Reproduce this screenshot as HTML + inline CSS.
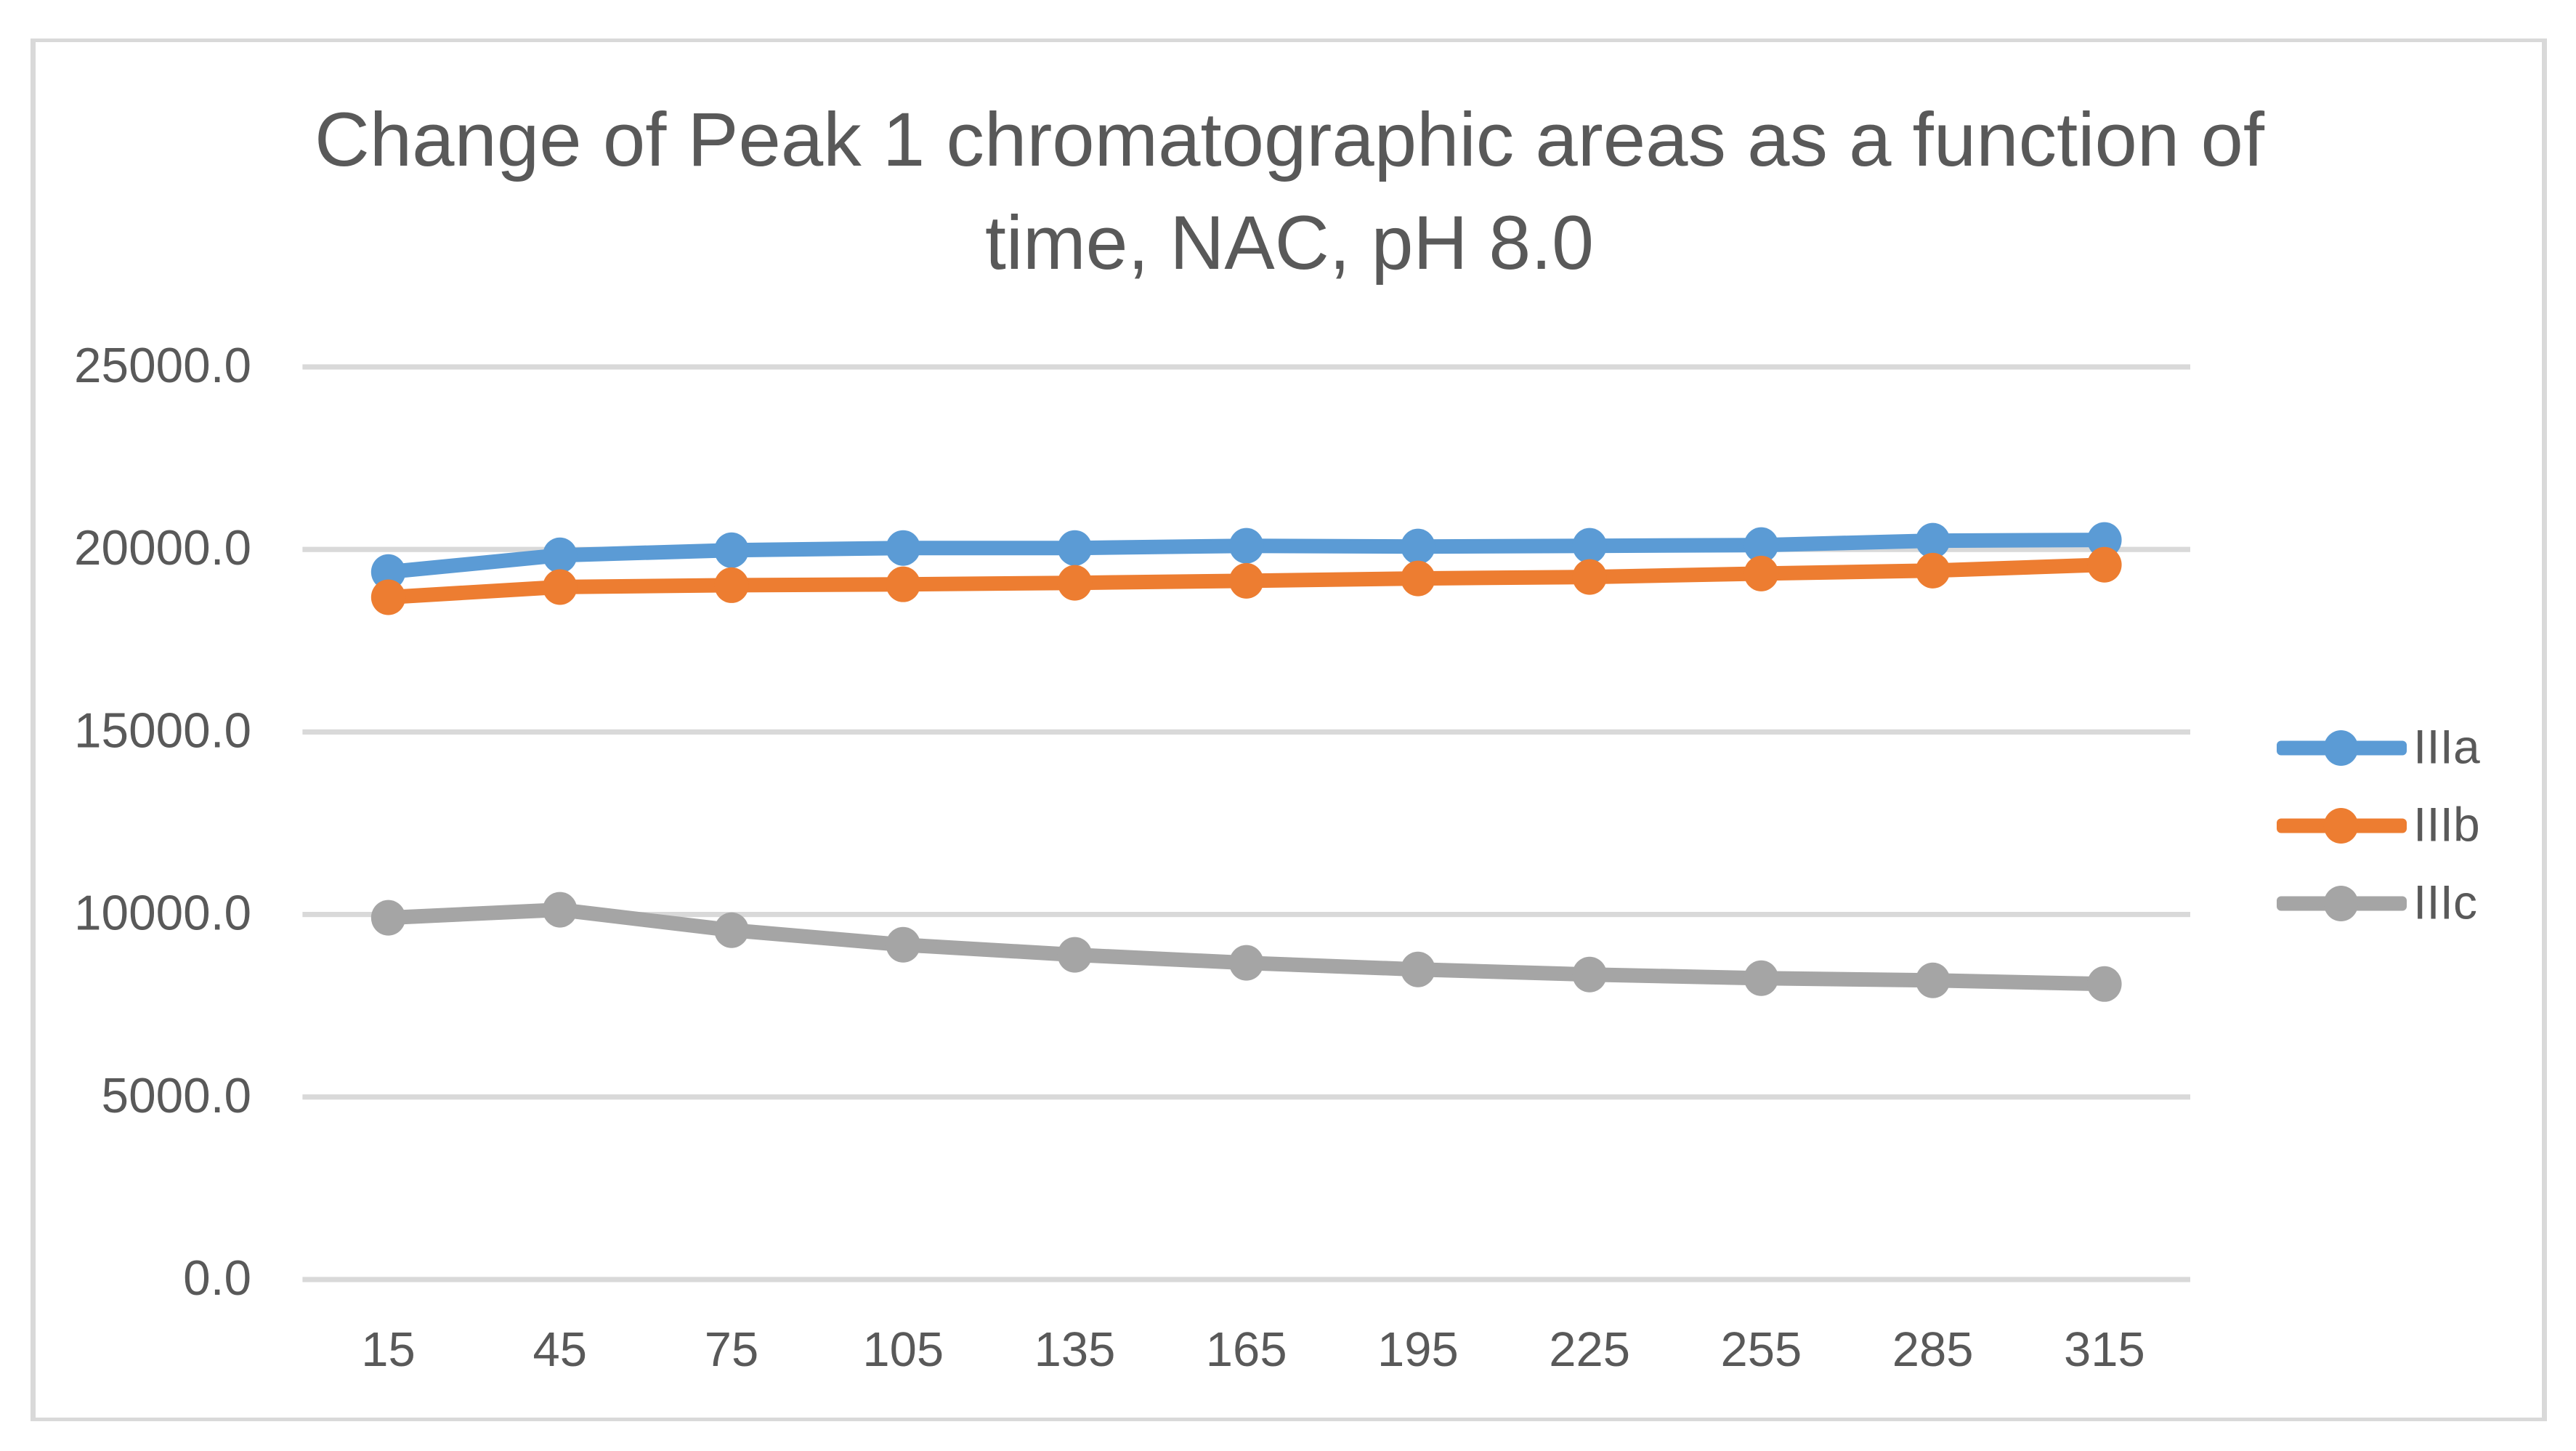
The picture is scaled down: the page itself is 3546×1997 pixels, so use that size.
<!DOCTYPE html>
<html lang="en">
<head>
<meta charset="utf-8">
<title>Change of Peak 1 chromatographic areas</title>
<style>
html,body{margin:0;padding:0;background:#fff;width:3546px;height:1997px;overflow:hidden}
#frame{position:absolute;left:42px;top:53px;width:3464px;height:1903px;box-sizing:border-box;border-style:solid;border-color:#d9d9d9;border-width:5.6px 7.6px;background:#fff}
svg{position:absolute;left:0;top:0}
text{font-family:"Liberation Sans",sans-serif;fill:#595959}
</style>
</head>
<body>
<div id="frame"></div>
<svg id="chart" width="3546" height="1997" viewBox="0 0 3546 1997" xmlns="http://www.w3.org/2000/svg">
  <g>
    <text x="1775" y="228" font-size="105" text-anchor="middle" textLength="2684" lengthAdjust="spacingAndGlyphs">Change of Peak 1 chromatographic areas as a function of</text>
    <text x="1775" y="370" font-size="105" text-anchor="middle" textLength="838" lengthAdjust="spacingAndGlyphs">time, NAC, pH 8.0</text>
  </g>
  <g id="grid"></g>
  <g id="yLabels"></g>
  <g id="xLabels"></g>
  <g id="plot"></g>
  <g id="legend"></g>
</svg>
<script>
const categories = [15, 45, 75, 105, 135, 165, 195, 225, 255, 285, 315];
const yTicks = [0, 5000, 10000, 15000, 20000, 25000];
const yTickLabels = ["0.0", "5000.0", "10000.0", "15000.0", "20000.0", "25000.0"];
const seriesNames = ["IIIa", "IIIb", "IIIc"];
const seriesColors = ["#5b9bd5", "#ed7d31", "#a5a5a5"];
const seriesIIIa = [19383, 19840, 19980, 20040, 20040, 20100, 20080, 20100, 20120, 20240, 20260];
const seriesIIIb = [18690, 18970, 19020, 19045, 19085, 19140, 19205, 19245, 19340, 19420, 19580];
const seriesIIIc = [9910, 10130, 9570, 9170, 8895, 8675, 8495, 8355, 8255, 8195, 8095];

const NS = "http://www.w3.org/2000/svg";
const plotLeft = 416.4, plotRight = 3015, plotBottom = 1761, plotTop = 505, yMax = 25000;
const allSeries = [seriesIIIa, seriesIIIb, seriesIIIc];

function xScale(i) {
  return plotLeft + (i + 0.5) * (plotRight - plotLeft) / categories.length;
}
function yScale(v) {
  return plotBottom - v * (plotBottom - plotTop) / yMax;
}
function make(tag, attrs, parent) {
  const el = document.createElementNS(NS, tag);
  for (const k in attrs) el.setAttribute(k, attrs[k]);
  parent.appendChild(el);
  return el;
}

const gridG = document.getElementById("grid");
const yLabelG = document.getElementById("yLabels");
const xLabelG = document.getElementById("xLabels");
const plotG = document.getElementById("plot");
const legendG = document.getElementById("legend");

yTicks.forEach(function (t, i) {
  const line = make("rect", {x: plotLeft, y: yScale(t) - 3.6, width: plotRight - plotLeft, height: 7.2, fill: "#d9d9d9"}, gridG);
  
  
  const label = make("text", {x: 346, y: yScale(t) + 21, "font-size": 67.5, "text-anchor": "end"}, yLabelG);
  label.textContent = yTickLabels[i];
  
  
});

categories.forEach(function (c, i) {
  const label = make("text", {x: xScale(i), y: 1880, "font-size": 67, "text-anchor": "middle"}, xLabelG);
  label.textContent = String(c);
  
  
});

allSeries.forEach(function (values, s) {
  const color = seriesColors[s];
  const group = make("g", {}, plotG);
  
  
  const pts = values.map(function (v, i) { return xScale(i).toFixed(1) + "," + yScale(v).toFixed(1); }).join(" ");
  const line = make("polyline", {points: pts, fill: "none", stroke: color, "stroke-width": 20, "stroke-linejoin": "round"}, group);
  
  
  values.forEach(function (v, i) {
    const dot = make("ellipse", {cx: xScale(i), cy: yScale(v), rx: 23.7, ry: 24.5, fill: color}, group);
    
    
  });
});

const legendLineY = [1029.5, 1136.5, 1243.5];
seriesNames.forEach(function (name, s) {
  const entry = make("g", {}, legendG);
  
  
  const cy = legendLineY[s];
  const key = make("rect", {x: 3134, y: cy - 10, width: 179, height: 20, rx: 6, fill: seriesColors[s]}, entry);
  
  
  const mark = make("ellipse", {cx: 3222.5, cy: cy, rx: 23.7, ry: 24.5, fill: seriesColors[s]}, entry);
  
  
  const label = make("text", {x: 3322, y: cy + 21, "font-size": 66}, entry);
  label.textContent = name;
  
  
});
</script>
</body>
</html>
